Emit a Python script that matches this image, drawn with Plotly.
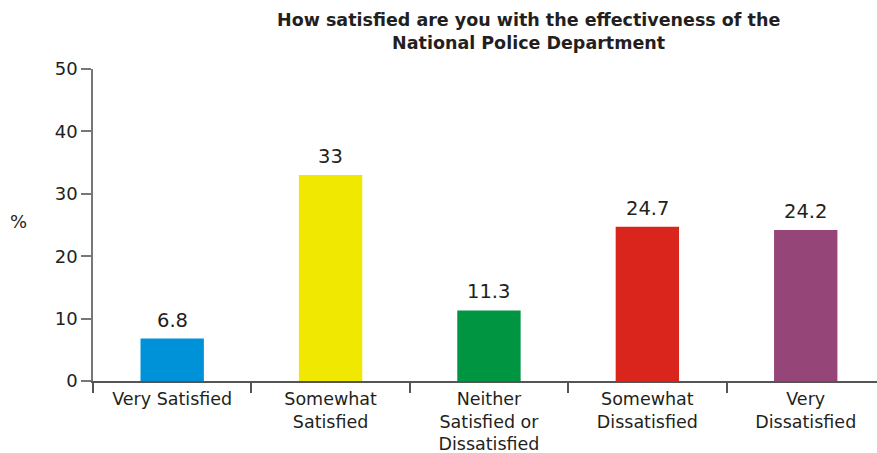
import plotly.graph_objects as go

# Survey responses: satisfaction with the National Police Department
categories = [
    "Very Satisfied",
    "Somewhat<br>Satisfied",
    "Neither<br>Satisfied or<br>Dissatisfied",
    "Somewhat<br>Dissatisfied",
    "Very<br>Dissatisfied",
]
percentages = [6.8, 33, 11.3, 24.7, 24.2]
bar_colors = ["#0092D8", "#F0E800", "#009540", "#DA251D", "#964578"]
y_tick_values = [0, 10, 20, 30, 40, 50]

FONT = "DejaVu Sans, Verdana, sans-serif"
TEXT_COLOR = "#231f20"

fig = go.Figure(
    go.Bar(
        x=categories,
        y=percentages,
        marker=dict(color=bar_colors, line=dict(width=0)),
        width=0.4,
        cliponaxis=False,
    )
)

# Value labels sitting just above each bar
value_labels = [
    dict(
        x=cat,
        y=val,
        xref="x",
        yref="y",
        text=f"{val:g}",
        showarrow=False,
        yanchor="bottom",
        yshift=5,
        font=dict(family=FONT, size=19.5, color=TEXT_COLOR),
    )
    for cat, val in zip(categories, percentages)
]

fig.update_layout(
    width=877,
    height=453,
    margin=dict(l=93, r=0, t=69, b=72),
    paper_bgcolor="white",
    plot_bgcolor="white",
    showlegend=False,
    font=dict(family=FONT, size=18, color=TEXT_COLOR),
    xaxis=dict(
        type="category",
        range=[-0.5, 4.45],
        automargin=False,
        showline=True,
        linecolor="#555555",
        linewidth=1.5,
        ticks="outside",
        tickson="boundaries",
        ticklen=10,
        tickcolor="#555555",
        tickwidth=1.5,
        showgrid=False,
        ticklabelstandoff=1,
        tickfont=dict(family=FONT, size=17.5, color=TEXT_COLOR),
    ),
    yaxis=dict(
        range=[0, 50],
        tickvals=y_tick_values,
        automargin=False,
        showline=True,
        linecolor="#777777",
        linewidth=1.5,
        ticks="outside",
        ticklen=10,
        tickcolor="#777777",
        tickwidth=1.5,
        showgrid=False,
        zeroline=False,
        tickfont=dict(family=FONT, size=18, color=TEXT_COLOR),
    ),
    annotations=value_labels
    + [
        dict(
            text="<b>How satisfied are you with the effectiveness of the<br>National Police Department</b>",
            xref="paper",
            yref="paper",
            x=0.556,
            y=1.045,
            xanchor="center",
            yanchor="bottom",
            showarrow=False,
            font=dict(family=FONT, size=17.5, color=TEXT_COLOR),
        ),
        dict(
            text="%",
            xref="paper",
            yref="paper",
            x=-0.108,
            y=0.51,
            xanchor="left",
            yanchor="middle",
            showarrow=False,
            font=dict(family=FONT, size=18, color=TEXT_COLOR),
        ),
    ],
)

fig.write_html("out.html")
